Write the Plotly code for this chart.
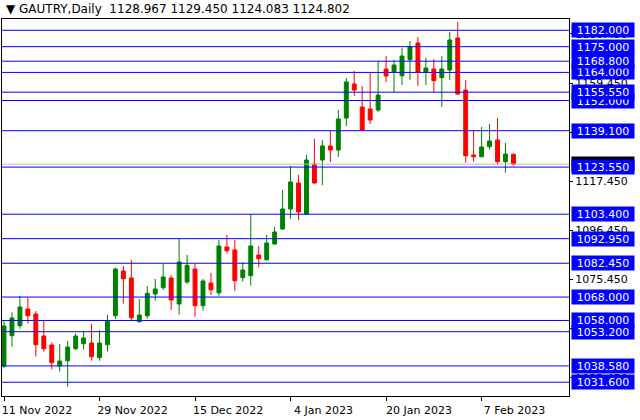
import plotly.graph_objects as go
import pandas as pd

# ---- data ----
dates = [d.strftime("%Y-%m-%d") for d in pd.bdate_range("2022-11-11", "2023-02-13")
         if d.strftime("%Y-%m-%d") not in ("2022-12-26", "2023-01-02")]

opens = [1038.54, 1051.49, 1055.76, 1062.90, 1060.76, 1051.36, 1047.51, 1038.54, 1040.80, 1045.93,
         1048.07, 1048.37, 1042.09, 1047.64, 1060.04, 1079.14, 1076.15, 1057.47, 1060.04, 1069.31,
         1072.00, 1076.15, 1065.04, 1074.44, 1079.99, 1064.31, 1074.01, 1069.86, 1089.39, 1088.11,
         1076.27, 1077.13, 1085.98, 1083.97, 1090.68, 1097.09, 1105.63, 1116.74, 1103.50, 1124.86,
         1126.57, 1132.56, 1130.85, 1144.52, 1159.05, 1149.22, 1148.37, 1147.94, 1165.46, 1164.18,
         1162.60, 1169.44, 1176.57, 1164.18, 1165.46, 1161.74, 1165.04, 1178.71, 1156.49, 1128.71,
         1127.98, 1132.26, 1135.12, 1125.85, 1128.967]
highs = [1058.20, 1061.49, 1068.45, 1067.73, 1062.04, 1057.90, 1048.67, 1047.94, 1049.22, 1052.51,
         1053.50, 1056.49, 1053.92, 1060.33, 1080.55, 1081.27, 1083.84, 1067.17, 1072.73, 1075.72,
         1082.26, 1077.30, 1092.94, 1085.98, 1082.26, 1075.72, 1078.28, 1092.39, 1094.52, 1092.39,
         1082.98, 1103.37, 1089.82, 1094.52, 1097.94, 1113.75, 1124.01, 1120.16, 1128.71, 1135.55,
         1135.12, 1138.97, 1147.94, 1161.62, 1164.61, 1158.20, 1164.05, 1168.75, 1171.02, 1169.31,
         1174.44, 1177.43, 1179.14, 1170.16, 1169.74, 1171.02, 1181.27, 1185.55, 1160.76, 1139.10,
         1140.68, 1141.96, 1144.52, 1133.84, 1129.450]
lows = [1037.56, 1046.79, 1054.48, 1056.62, 1042.51, 1044.65, 1037.13, 1036.10, 1029.69, 1045.38,
        1045.50, 1040.80, 1040.80, 1044.65, 1058.63, 1065.16, 1057.77, 1057.04, 1058.75, 1066.45,
        1071.02, 1062.47, 1060.46, 1073.58, 1059.61, 1062.17, 1068.88, 1068.58, 1086.53, 1070.72,
        1074.57, 1072.86, 1080.72, 1083.54, 1090.25, 1096.66, 1101.36, 1100.93, 1103.40, 1116.50,
        1115.89, 1125.72, 1127.86, 1141.10, 1153.92, 1139.20, 1141.96, 1147.09, 1159.91, 1155.63,
        1158.63, 1160.76, 1158.20, 1158.63, 1155.63, 1149.22, 1160.76, 1154.35, 1125.42, 1125.85,
        1127.90, 1130.98, 1124.56, 1121.15, 1124.083]
closes = [1055.63, 1059.05, 1063.75, 1060.04, 1047.64, 1045.93, 1039.95, 1040.68, 1046.66, 1051.36,
          1050.51, 1042.51, 1048.37, 1057.90, 1079.99, 1075.85, 1059.18, 1060.33, 1069.61, 1071.45,
          1076.57, 1066.74, 1082.98, 1081.57, 1064.31, 1074.86, 1071.15, 1089.82, 1087.81, 1074.99,
          1079.57, 1089.82, 1084.39, 1091.10, 1095.80, 1105.63, 1117.17, 1104.35, 1126.57, 1116.74,
          1132.56, 1130.85, 1144.10, 1159.91, 1156.49, 1139.39, 1143.67, 1154.35, 1162.47, 1167.17,
          1171.02, 1174.86, 1164.18, 1165.89, 1160.46, 1165.46, 1177.86, 1154.78, 1128.41, 1127.98,
          1132.13, 1134.69, 1125.85, 1129.14, 1124.802]

levels = [1031.6, 1038.58, 1053.2, 1058.0, 1068.0, 1082.45, 1092.95, 1103.4, 1123.55,
          1139.1, 1152.0, 1155.55, 1164.0, 1168.8, 1175.0, 1182.0]
current_price = 1124.802

date_ticks = ["2022-11-11", "2022-11-29", "2022-12-15", "2023-01-04", "2023-01-20", "2023-02-07"]
date_labels = ["11 Nov 2022", "29 Nov 2022", "15 Dec 2022", "4 Jan 2023", "20 Jan 2023", "7 Feb 2023"]
price_ticks = [1033.45, 1054.45, 1075.45, 1096.45, 1117.45, 1138.45, 1159.45, 1180.45]

title_text = "\u25BC GAUTRY,Daily\u00a0\u00a01128.967 1129.450 1124.083 1124.802"

FONT = "DejaVu Sans"

fig = go.Figure()
fig.add_trace(go.Candlestick(
    x=dates, open=opens, high=highs, low=lows, close=closes,
    increasing=dict(line=dict(color="#008000", width=1), fillcolor="#008000"),
    decreasing=dict(line=dict(color="#FF0000", width=1), fillcolor="#FF0000"),
    whiskerwidth=0, showlegend=False, hoverinfo="skip",
))

shapes = [dict(type="line", xref="paper", x0=0, x1=1, yref="y", y0=current_price,
               y1=current_price, line=dict(color="#C0C0C0", width=1), layer="above")]
for lv in levels:
    shapes.append(dict(type="line", xref="paper", x0=0, x1=1, yref="y", y0=lv, y1=lv,
                       line=dict(color="#0000FF", width=1), layer="above"))

annotations = [dict(xref="paper", x=1, xanchor="left", xshift=2, yref="y", y=current_price,
                    yanchor="middle", text=f"{current_price:.3f}", showarrow=False,
                    bgcolor="#000000", font=dict(family=FONT, size=11, color="white"),
                    width=58, height=10, borderpad=2, align="center")]
for lv in levels:
    annotations.append(dict(xref="paper", x=1, xanchor="left", xshift=2, yref="y", y=lv,
                            yanchor="middle", text=f"{lv:.3f}", showarrow=False,
                            bgcolor="#0000FF", font=dict(family=FONT, size=11, color="white"),
                            width=58, height=10, borderpad=2, align="center"))
annotations.append(dict(xref="paper", x=0, xanchor="left", xshift=2, yref="paper", y=1,
                        yanchor="middle", yshift=10, text=title_text, showarrow=False,
                        font=dict(family=FONT, size=12, color="black")))

fig.update_layout(
    width=640, height=420,
    margin=dict(l=2, r=71, t=19, b=24),
    paper_bgcolor="white", plot_bgcolor="white",
    shapes=shapes, annotations=annotations,
    xaxis=dict(type="category", range=[-0.251, 70.98], rangeslider=dict(visible=False),
               showgrid=False, zeroline=False, showline=True, linecolor="black", linewidth=1,
               mirror=True, ticks="outside", ticklen=4, tickcolor="black",
               tickvals=date_ticks, ticktext=date_labels, ticklabelshift=33,
               tickfont=dict(family=FONT, size=11, color="black")),
    yaxis=dict(side="right", range=[1025.72, 1186.83], showgrid=False, zeroline=False,
               showline=True, linecolor="black", linewidth=1, mirror=True,
               ticks="outside", ticklen=3, tickcolor="black",
               tickvals=price_ticks, ticktext=[f"{v:.3f}" for v in price_ticks],
               tickfont=dict(family=FONT, size=11, color="black")),
)

fig.write_html("out.html", config={"displayModeBar": False},
               post_script="document.body.style.margin='0';document.body.style.overflow='hidden';")
